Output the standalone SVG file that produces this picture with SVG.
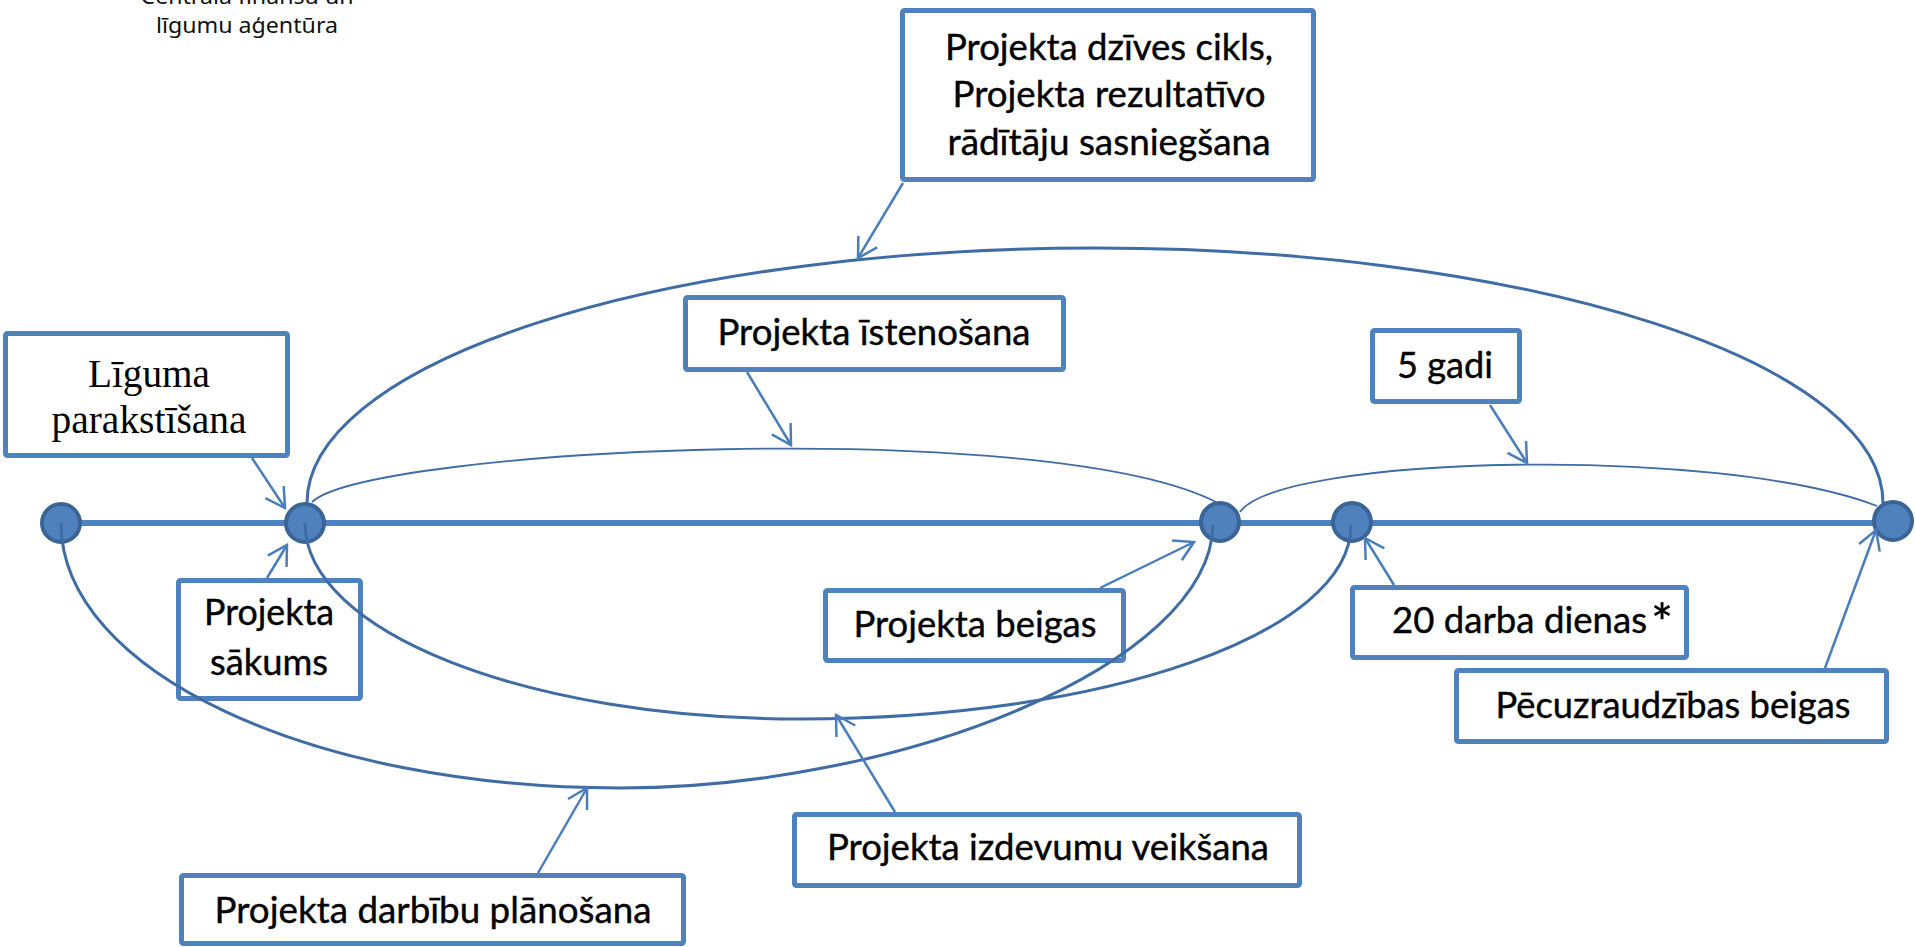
<svg xmlns="http://www.w3.org/2000/svg" width="1915" height="947" viewBox="0 0 1915 947">
<defs>
<style>
.box{fill:#fff;stroke:#4F81BD;stroke-width:5}
.t{font-family:Lato,"Open Sans",sans-serif;font-size:37px;fill:#000;stroke:#000;stroke-width:0.4;text-anchor:middle}
.ts{font-family:"Liberation Serif","Times New Roman",serif;font-size:39px;fill:#000;text-anchor:middle}
.tl{font-family:"Noto Sans","Open Sans",sans-serif;font-size:22px;fill:#111;text-anchor:middle}
.arr{fill:none;stroke:#4A7EBB;stroke-width:2.5;marker-end:url(#ah)}
.curve{fill:none;stroke:#3F6CA5;stroke-width:3}
.thin{fill:none;stroke:#3F6CA5;stroke-width:1.8}
.dot{fill:#4F81BD;stroke:#3A6496;stroke-width:4}
</style>
<marker id="ah" markerUnits="userSpaceOnUse" viewBox="-24 -14 26 28" markerWidth="26" markerHeight="28" refX="0" refY="0" orient="auto">
<path d="M -19 -11 L 0 0 L -19 11" fill="none" stroke="#4A7EBB" stroke-width="2.5"/>
</marker>
</defs>
<rect width="1915" height="947" fill="#fff"/>
<g id="header">
<text class="tl" x="247" y="4" textLength="213" lengthAdjust="spacingAndGlyphs">Centrālā finanšu un</text>
<text class="tl" x="247" y="33" textLength="182" lengthAdjust="spacingAndGlyphs">līgumu aģentūra</text>
</g>
<g id="timeline">
<line x1="61" y1="523" x2="1893" y2="523" stroke="#4F81BD" stroke-width="6"/>
</g>
<g id="m1"><circle class="dot" cx="61" cy="523" r="19"/></g>
<g id="m2"><circle class="dot" cx="305" cy="523" r="19"/></g>
<g id="m3"><circle class="dot" cx="1220" cy="522" r="19"/></g>
<g id="m4"><circle class="dot" cx="1352" cy="522" r="19"/></g>
<g id="m5"><circle class="dot" cx="1893" cy="521" r="19"/></g>

<g id="n-cikls">
<rect class="box" x="902.5" y="10.5" width="411" height="169" rx="2"/>
<text class="t" x="1109" y="60" textLength="328" lengthAdjust="spacingAndGlyphs">Projekta dzīves cikls,</text>
<text class="t" x="1109" y="107" textLength="313" lengthAdjust="spacingAndGlyphs">Projekta rezultatīvo</text>
<text class="t" x="1109" y="155" textLength="323" lengthAdjust="spacingAndGlyphs">rādītāju sasniegšana</text>
</g>
<g id="n-ligums">
<rect class="box" x="5.5" y="333.5" width="282" height="122" rx="2"/>
<text class="ts" x="149" y="387" textLength="122" lengthAdjust="spacingAndGlyphs">Līguma</text>
<text class="ts" x="149" y="433" textLength="195" lengthAdjust="spacingAndGlyphs">parakstīšana</text>
</g>
<g id="n-sakums">
<rect class="box" x="178.5" y="580.5" width="182" height="118" rx="2"/>
<text class="t" x="269" y="625" textLength="130" lengthAdjust="spacingAndGlyphs">Projekta</text>
<text class="t" x="269" y="675" textLength="118" lengthAdjust="spacingAndGlyphs">sākums</text>
</g>
<g id="n-istenosana">
<rect class="box" x="685.5" y="297.5" width="378" height="72" rx="2"/>
<text class="t" x="874" y="345" textLength="313" lengthAdjust="spacingAndGlyphs">Projekta īstenošana</text>
</g>
<g id="n-5gadi">
<rect class="box" x="1372.5" y="330.5" width="147" height="71" rx="2"/>
<text class="t" x="1445" y="378" textLength="96" lengthAdjust="spacingAndGlyphs">5 gadi</text>
</g>
<g id="n-beigas">
<rect class="box" x="825.5" y="590.5" width="298" height="70" rx="2"/>
<text class="t" x="975" y="637" textLength="243" lengthAdjust="spacingAndGlyphs">Projekta beigas</text>
</g>
<g id="n-20dienas">
<rect class="box" x="1352.5" y="587.5" width="334" height="70" rx="2"/>
<text class="t" x="1519.5" y="633" textLength="255" lengthAdjust="spacingAndGlyphs">20 darba dienas</text>
<text class="t" x="1662" y="642" style="font-size:52px">*</text>
</g>
<g id="n-pecuzraudziba">
<rect class="box" x="1456.5" y="670.5" width="430" height="71" rx="2"/>
<text class="t" x="1673" y="718" textLength="355" lengthAdjust="spacingAndGlyphs">Pēcuzraudzības beigas</text>
</g>
<g id="n-izdevumi">
<rect class="box" x="794.5" y="814.5" width="505" height="71" rx="2"/>
<text class="t" x="1048" y="860" textLength="442" lengthAdjust="spacingAndGlyphs">Projekta izdevumu veikšana</text>
</g>
<g id="n-planosana">
<rect class="box" x="181.5" y="875.5" width="502" height="68" rx="2"/>
<text class="t" x="433" y="923" textLength="437" lengthAdjust="spacingAndGlyphs">Projekta darbību plānošana</text>
</g>

<g id="connectors">
<path class="curve" d="M 307 503 A 788 255 0 0 1 1883 503"/>
<path class="thin" d="M 312 502 C 370 448, 1050 415, 1218 503"/>
<path class="thin" d="M 1240 512 C 1280 455, 1720 445, 1877 506"/>
<path class="curve" d="M 61 523 C 61 672, 312 788, 620 788 C 900 788, 1210 665, 1213 525"/>
<path class="curve" d="M 305 523 C 305 632, 527 719, 800 719 C 1104 719, 1351 634, 1351 525"/>
<path class="arr" d="M 903 183 L 858 258"/>
<path class="arr" d="M 252 458 L 285 508"/>
<path class="arr" d="M 267 578 L 287 545"/>
<path class="arr" d="M 747 372 L 791 445"/>
<path class="arr" d="M 1490 405 L 1527 463"/>
<path class="arr" d="M 1100 588 L 1194 542"/>
<path class="arr" d="M 1394 585 L 1365 538"/>
<path class="arr" d="M 1825 668 L 1876 530"/>
<path class="arr" d="M 895 812 L 836 715"/>
<path class="arr" d="M 538 873 L 587 788"/>
</g>
</svg>
